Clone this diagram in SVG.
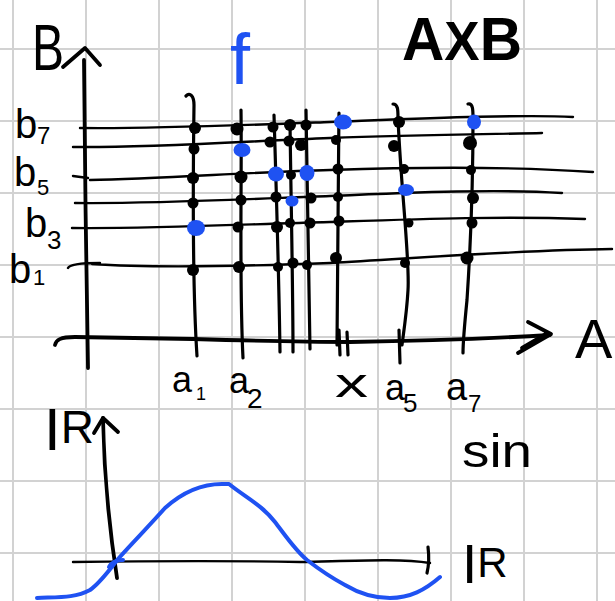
<svg xmlns="http://www.w3.org/2000/svg" width="615" height="601" viewBox="0 0 615 601">
<style>
.grid{stroke:#d2d2d2;stroke-width:2;fill:none}
.ink{stroke:#000;fill:none;stroke-linecap:round;stroke-linejoin:round}
.h{stroke-width:2.4}
.v{stroke-width:3.2}
.ax{stroke-width:3.8}
.blue{stroke:#1f52f2;fill:none;stroke-width:4;stroke-linecap:round;stroke-linejoin:round}
.dot{fill:#000}
.bdot{fill:#1f52f2}
.t{font-family:"Liberation Sans",Arial,sans-serif;fill:#000}
</style>
<rect width="615" height="601" fill="#fff"/>
<g id="grid">
<path class="grid" d="M13,0V601M86,0V601M159,0V601M232,0V601M305,0V601M378,0V601M451,0V601M524,0V601M597,0V601"/>
<path class="grid" d="M0,49H615M0,121H615M0,193H615M0,265H615M0,337H615M0,409H615M0,481H615M0,553H615"/>
</g>
<g id="title">
<text class="t" x="402" y="60" font-size="62" font-weight="bold" textLength="120" lengthAdjust="spacingAndGlyphs">A<tspan font-size="56">X</tspan>B</text>
</g>
<g id="f-label">
<text x="230" y="84" font-family="Liberation Sans,Arial,sans-serif" font-size="72" fill="#1f52f2">f</text>
</g>
<g id="axes-top">
<path class="ink ax" d="M84,60 C85,150 86,280 88,368"/>
<path class="ink ax" d="M63,67 L85,48 L100,65"/>
<path class="ink ax" d="M55,345 C56,340 60,337 75,337 L193,339 C260,341 310,342 350,342 C420,341 500,338 550,335"/>
<path class="ink ax" d="M528,322 L551,334 L518,353 M522,348 L546,334"/>
<text class="t" x="32" y="70" font-size="64" textLength="32" lengthAdjust="spacingAndGlyphs">B</text>
<text class="t" x="575" y="358" font-size="56">A</text>
</g>
<g id="b-lines">
<path class="ink h" d="M80,128 C150,129 250,125 330,122 S520,114 573,117"/>
<path class="ink h" d="M73,147 C150,148 250,141 330,138 S500,134 542,133"/>
<path class="ink h" d="M73,176 L88,178 M90,180 C160,179 250,172 330,170 C420,167 520,167 593,172"/>
<path class="ink h" d="M75,203 C150,204 250,199 330,196 C420,192 500,189 562,193"/>
<path class="ink h" d="M72,228 C150,229 250,224 330,222 C420,219 500,216 585,219"/>
<path class="ink h" d="M68,268 Q70,263 100,263 M92,264 C150,268 250,266 330,263 C420,258 520,250 612,249"/>
</g>
<g id="b-labels">
<text class="t" x="15" y="138" font-size="40">b<tspan font-size="24" x="37" y="144">7</tspan></text>
<text class="t" x="14" y="186" font-size="40">b<tspan font-size="22" x="37" y="195">5</tspan></text>
<text class="t" x="25" y="237" font-size="40">b<tspan font-size="26" x="47" y="249">3</tspan></text>
<text class="t" x="9" y="283" font-size="40">b<tspan font-size="22" x="33" y="285">1</tspan></text>
</g>
<g id="a-lines">
<path class="ink v" d="M186,96 C190,92 194,96 194,105 C193,180 192,280 197,356"/>
<path class="ink v" d="M241,110 C242,180 239,280 243,358"/>
<path class="ink v" d="M274,115 C276,180 279,280 280,352"/>
<path class="ink v" d="M290,122 C291,200 293,290 293,352"/>
<path class="ink v" d="M306,110 C307,200 309,290 310,349"/>
<path class="ink v" d="M339,113 C338,200 337,290 337,345 M339,330 L340,355 M347,332 L348,355"/>
<path class="ink v" d="M393,104 C398,104 398,110 398,118 C401,190 410,260 408,290 C407,310 404,330 402,345 M399,330 L400,363"/>
<path class="ink v" d="M468,104 C473,103 473,110 473,118 C473,200 469,270 467,300 C465,320 463,340 463,353"/>
</g>
<g id="a-labels">
<text class="t" x="172" y="392" font-size="36">a<tspan font-size="18" x="196" y="400">1</tspan></text>
<text class="t" x="229" y="393" font-size="36">a<tspan font-size="28" x="247" y="408">2</tspan></text>
<text class="t" x="335" y="397" font-size="40" textLength="33" lengthAdjust="spacingAndGlyphs">x</text>
<text class="t" x="385" y="400" font-size="36">a<tspan font-size="26" x="403" y="412">5</tspan></text>
<text class="t" x="446" y="400" font-size="38">a<tspan font-size="24" x="468" y="412">7</tspan></text>
</g>
<g id="black-dots">
<circle class="dot" cx="195" cy="128" r="6"/><circle class="dot" cx="194" cy="149" r="5.5"/><circle class="dot" cx="193" cy="178" r="6"/><circle class="dot" cx="193" cy="203" r="5.5"/><circle class="dot" cx="193" cy="270" r="6"/>
<circle class="dot" cx="237" cy="129" r="6.5"/><circle class="dot" cx="241" cy="177" r="6.5"/><circle class="dot" cx="241" cy="200" r="5.5"/><circle class="dot" cx="238" cy="227" r="5.5"/><circle class="dot" cx="239" cy="267" r="6"/>
<circle class="dot" cx="273" cy="127" r="5.5"/><circle class="dot" cx="270" cy="142" r="5.5"/><circle class="dot" cx="276" cy="197" r="5.5"/><circle class="dot" cx="277" cy="227" r="6"/><circle class="dot" cx="278" cy="267" r="5"/>
<circle class="dot" cx="290" cy="125" r="6"/><circle class="dot" cx="289" cy="141" r="5.5"/><circle class="dot" cx="291" cy="175" r="5"/><circle class="dot" cx="290" cy="223" r="5"/><circle class="dot" cx="293" cy="263" r="5.5"/>
<circle class="dot" cx="306" cy="125" r="5.5"/><circle class="dot" cx="301" cy="145" r="6"/><circle class="dot" cx="311" cy="198" r="5.5"/><circle class="dot" cx="310" cy="223" r="5.5"/><circle class="dot" cx="307" cy="265" r="5"/>
<circle class="dot" cx="336" cy="140" r="5"/><circle class="dot" cx="338" cy="169" r="5.5"/><circle class="dot" cx="338" cy="197" r="5"/><circle class="dot" cx="339" cy="221" r="5.5"/><circle class="dot" cx="336" cy="258" r="6"/>
<circle class="dot" cx="399" cy="122" r="6"/><circle class="dot" cx="394" cy="146" r="6"/><circle class="dot" cx="404" cy="169" r="5"/><circle class="dot" cx="409" cy="223" r="4.5"/><circle class="dot" cx="405" cy="263" r="5"/>
<circle class="dot" cx="470" cy="143" r="7"/><circle class="dot" cx="471" cy="170" r="5"/><circle class="dot" cx="473" cy="198" r="6"/><circle class="dot" cx="472" cy="223" r="5.5"/><circle class="dot" cx="467" cy="258" r="6.5"/>
</g>
<g id="blue-dots">
<ellipse class="bdot" cx="196" cy="228" rx="9" ry="8"/>
<ellipse class="bdot" cx="242" cy="150" rx="8.5" ry="7"/>
<ellipse class="bdot" cx="276" cy="174" rx="8" ry="7.5"/>
<ellipse class="bdot" cx="292" cy="201" rx="6.5" ry="5.5"/>
<ellipse class="bdot" cx="307" cy="173" rx="7.5" ry="8"/>
<ellipse class="bdot" cx="343" cy="122" rx="9" ry="7.5"/>
<ellipse class="bdot" cx="406" cy="190" rx="8" ry="6"/>
<ellipse class="bdot" cx="474" cy="122" rx="7" ry="7.5"/>
</g>
<g id="sin-graph">
<path class="ink ax" d="M103,418 C104,470 108,520 117,578"/>
<path class="ink ax" d="M94,433 L103,418 L118,432"/>
<path class="ink h" d="M73,562 C150,561 250,561 300,562 C350,561 400,558 430,563"/>
<path class="ink v" d="M428,547 C429,555 429,565 427,573"/>
<path class="blue" d="M37,598 C60,597 75,598 90,590 C100,583 108,572 118,559 C135,540 150,525 165,508 C185,490 205,484 222,484 L229,484 C245,497 262,505 275,522 C285,535 295,550 307,560 C320,570 330,577 345,585 C360,594 375,598 390,598 C410,598 425,590 440,577"/>
<path class="blue" d="M109,567 Q113,560 123,560"/>
<text class="t" x="44" y="450" font-size="60">I<tspan font-size="46" y="443">R</tspan></text>
<text class="t" x="462" y="583" font-size="55">I<tspan font-size="42" y="577">R</tspan></text>
<text class="t" x="462" y="467" font-size="46" textLength="70" lengthAdjust="spacingAndGlyphs">sin</text>
</g>
</svg>
